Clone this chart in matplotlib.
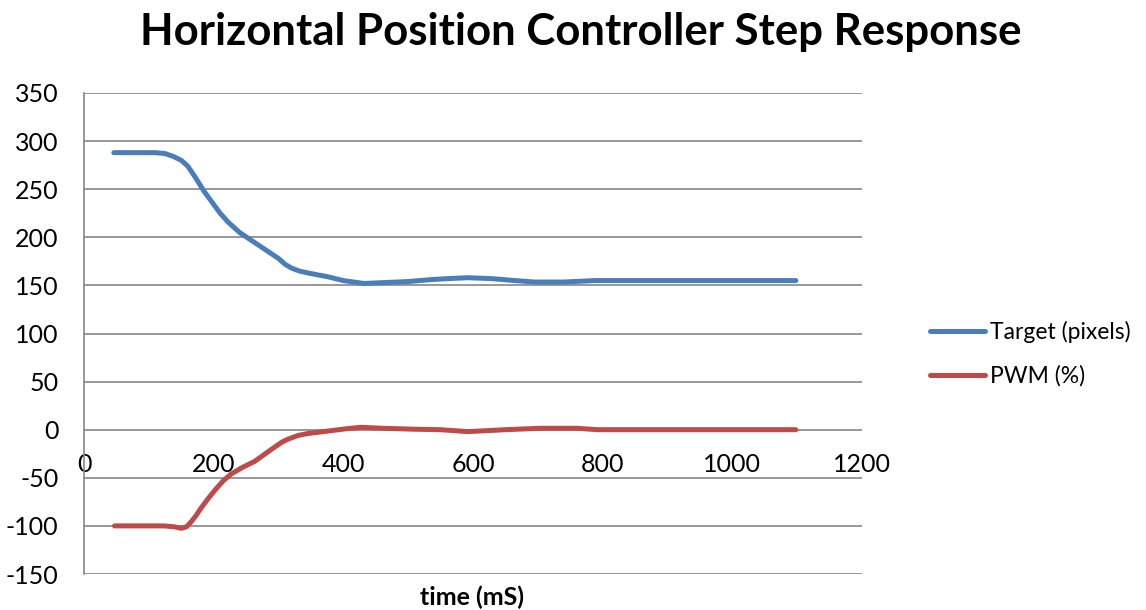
import matplotlib
matplotlib.use("Agg")
import matplotlib.pyplot as plt

# values
time_target = [46, 80, 110, 125, 138, 150, 160, 172, 185, 198, 210, 222, 240, 260,
               280, 300, 310, 320, 332, 345, 360, 376, 400, 432, 465, 500, 535, 560,
               592, 630, 665, 695, 740, 787, 850, 950, 1050, 1098]
target_px = [288, 288, 288, 287, 284, 280, 274, 262, 248, 236, 225, 216, 205, 196,
             187, 178, 172, 168, 165, 163, 161, 159, 155, 152, 153, 154, 156, 157,
             158, 157, 155, 153.5, 153.5, 155, 155, 155, 155, 155]

time_pwm = [47, 90, 124, 140, 150, 158, 165, 172, 180, 191, 203, 215, 227, 245, 263,
            290, 305, 314, 330, 345, 381, 405, 427, 460, 510, 550, 592, 650, 705,
            760, 792, 850, 950, 1050, 1098]
pwm_pct = [-100, -100, -100, -101, -102.5, -101, -96, -90, -82, -72, -62, -53, -46,
           -39, -33, -20, -13, -10, -6, -4, -1, 1, 2.5, 1.5, 0.5, 0, -2, 0, 1.5, 1.5,
           0, 0, 0, 0, 0]

xticks = [0, 200, 400, 600, 800, 1000, 1200]
yticks = [-150, -100, -50, 0, 50, 100, 150, 200, 250, 300, 350]

plt.rcParams['font.family'] = ['Lato', 'DejaVu Sans']
plt.rcParams['axes.unicode_minus'] = False

fig = plt.figure(figsize=(11.46, 6.10), dpi=100)
ax = fig.add_axes([84 / 1146, 1 - 574 / 610, (862 - 84) / 1146, (574 - 93) / 610])

ax.plot(time_target, target_px, color='#4A7EBB', lw=3.6, solid_capstyle='round',
        solid_joinstyle='round', label='Target (pixels)', zorder=3)
ax.plot(time_pwm, pwm_pct, color='#BE4B48', lw=3.6, solid_capstyle='round',
        solid_joinstyle='round', label='PWM (%)', zorder=3)

ax.set_xlim(0, 1200)
ax.set_ylim(-150, 350)
ax.set_yticks(yticks)
ax.set_xticks(xticks)
ax.grid(axis='y', color='#868686', lw=1.2)
ax.set_axisbelow(True)

for s in ['top', 'right']:
    ax.spines[s].set_visible(False)
ax.spines['left'].set_color('#868686')
ax.spines['left'].set_linewidth(1.2)
ax.spines['bottom'].set_position(('data', 0))
ax.spines['bottom'].set_visible(False)
ax.tick_params(axis='both', length=0, labelsize=18)
ax.tick_params(axis='y', pad=18.5)
ax.tick_params(axis='x', pad=17)

fig.text(472 / 1146, 1 - 597 / 610, 'time (mS)', ha='center', va='center',
         fontsize=18, fontweight='bold')
fig.text(581 / 1146, 1 - 32 / 610, 'Horizontal Position Controller Step Response',
         ha='center', va='center', fontsize=31.5, fontweight='bold')

leg = ax.legend(loc='center left', bbox_to_anchor=((930 - 84) / 778, 0.458),
                borderaxespad=0, borderpad=0, frameon=False, fontsize=16.5,
                handlelength=2.4, handletextpad=0.2, labelspacing=1.0)

fig.savefig('out.png', dpi=100)
